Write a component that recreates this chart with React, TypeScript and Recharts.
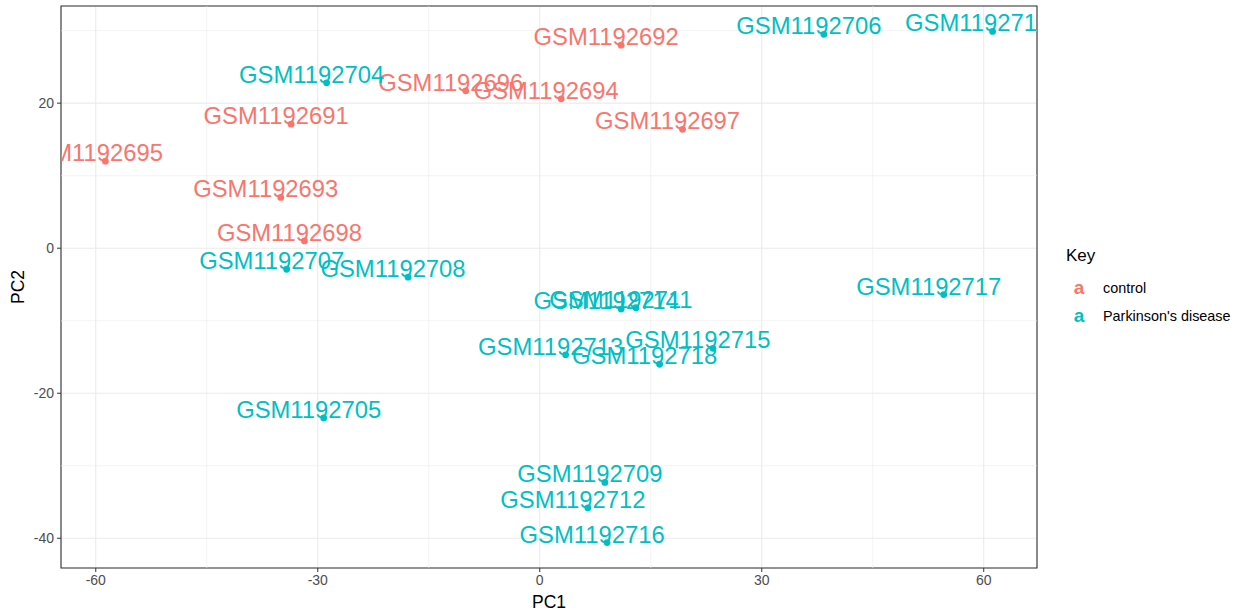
import {
  CartesianGrid,
  Legend,
  ReferenceArea,
  ReferenceLine,
  Scatter,
  ScatterChart,
  XAxis,
  YAxis,
} from "recharts";

const FONT = '"Liberation Sans", Arial, sans-serif';
const CONTROL_COLOR = "#F8766D";
const PD_COLOR = "#00BFC4";

// control samples
const controlNames = [
  "GSM1192691", "GSM1192692", "GSM1192693", "GSM1192694",
  "GSM1192695", "GSM1192696", "GSM1192697", "GSM1192698",
];
const controlPC1 = [-33.6, 11.0, -35.0, 2.9, -58.7, -10.0, 19.3, -31.8];
const controlPC2 = [17.1, 28.0, 7.0, 20.6, 12.0, 21.7, 16.4, 1.0];

// Parkinson's disease samples
const pdNames = [
  "GSM1192704", "GSM1192705", "GSM1192706", "GSM1192707", "GSM1192708",
  "GSM1192709", "GSM1192710", "GSM1192711", "GSM1192712", "GSM1192713",
  "GSM1192714", "GSM1192715", "GSM1192716", "GSM1192717", "GSM1192718",
];
const pdPC1 = [-28.8, -29.2, 38.4, -34.2, -17.8, 8.8, 61.2, 13.0, 6.5, 3.5, 11.0, 23.4, 9.1, 54.6, 16.2];
const pdPC2 = [22.8, -23.4, 29.5, -2.9, -4.0, -32.3, 29.9, -8.2, -35.8, -14.7, -8.4, -13.8, -40.6, -6.4, -16.0];

const xTicks = [-60, -30, 0, 30, 60];
const yTicks = [-40, -20, 0, 20];
const xMinor = [-45, -15, 15, 45];
const yMinor = [-30, -10, 10, 30];
const xDomain: [number, number] = [-64.7, 67.2];
const yDomain: [number, number] = [-44.1, 33.4];

const controlData = controlNames.map((name, i) => ({ name, pc1: controlPC1[i], pc2: controlPC2[i] }));
const pdData = pdNames.map((name, i) => ({ name, pc1: pdPC1[i], pc2: pdPC2[i] }));

// dot plus sample label, label sits just above and a bit left of the point
function labelledPoint(color: string) {
  return (props: any) => {
    const { cx, cy, payload } = props;
    if (cx == null || cy == null) return <g />;
    return (
      <g>
        <text
          x={cx - 15}
          y={cy}
          textAnchor="middle"
          fill={color}
          fontSize={23.8}
          fontFamily={FONT}
        >
          {payload.name}
        </text>
        <circle cx={cx} cy={cy} r={3.4} fill={color} />
      </g>
    );
  };
}

function KeyLegend() {
  const items = [
    { label: "control", color: CONTROL_COLOR },
    { label: "Parkinson's disease", color: PD_COLOR },
  ];
  return (
    <svg width={185} height={100} style={{ display: "block" }}>
      <text x={11} y={21} fontSize={17} fontFamily={FONT} fill="#000">Key</text>
      {items.map((it, i) => (
        <g key={it.label}>
          <text x={24} y={54 + i * 28} textAnchor="middle" fontSize={19} fontWeight="bold" fontFamily={FONT} fill={it.color}>a</text>
          <text x={48} y={53 + i * 28} fontSize={14.4} fontFamily={FONT} fill="#000">{it.label}</text>
        </g>
      ))}
    </svg>
  );
}

const tickStyle = { fill: "#4D4D4D", fontSize: 14, fontFamily: FONT };

export default function App() {
  return (
    <div style={{ position: "absolute", left: 0, top: 0, width: 1242, height: 615, background: "#fff" }}>
      <ScatterChart width={1242} height={615} margin={{ top: 6, right: 205, bottom: 0, left: 0 }}>
        <CartesianGrid stroke="#EBEBEB" strokeWidth={1.1} />
        {xMinor.map((v) => (
          <ReferenceLine key={`xm${v}`} x={v} stroke="#EBEBEB" strokeWidth={0.6} />
        ))}
        {yMinor.map((v) => (
          <ReferenceLine key={`ym${v}`} y={v} stroke="#EBEBEB" strokeWidth={0.6} />
        ))}
        <XAxis
          type="number"
          dataKey="pc1"
          domain={xDomain}
          ticks={xTicks}
          allowDataOverflow
          height={47}
          axisLine={false}
          tickLine={{ stroke: "#333333" }}
          tickSize={4}
          tickMargin={3}
          tick={tickStyle}
          label={{
            content: ({ viewBox }: any) => (
              <text x={viewBox.x + viewBox.width / 2} y={608} textAnchor="middle" fontSize={17.5} fontFamily={FONT} fill="#000">
                PC1
              </text>
            ),
          }}
        />
        <YAxis
          type="number"
          dataKey="pc2"
          domain={yDomain}
          ticks={yTicks}
          allowDataOverflow
          width={61}
          axisLine={false}
          tickLine={{ stroke: "#333333" }}
          tickSize={4}
          tickMargin={3}
          tick={tickStyle}
          label={{
            content: ({ viewBox }: any) => {
              const cy = viewBox.y + viewBox.height / 2;
              return (
                <text x={24} y={cy} transform={`rotate(-90 24 ${cy})`} textAnchor="middle" fontSize={17.5} fontFamily={FONT} fill="#000">
                  PC2
                </text>
              );
            },
          }}
        />
        <Scatter name="control" data={controlData} fill={CONTROL_COLOR} shape={labelledPoint(CONTROL_COLOR)} isAnimationActive={false} />
        <Scatter name="Parkinson's disease" data={pdData} fill={PD_COLOR} shape={labelledPoint(PD_COLOR)} isAnimationActive={false} />
        <ReferenceArea
          x1={xDomain[0]}
          x2={xDomain[1]}
          y1={yDomain[0]}
          y2={yDomain[1]}
          fill="none"
          stroke="#333333"
          strokeWidth={1.1}
          ifOverflow="visible"
        />
        <Legend
          layout="horizontal"
          verticalAlign="middle"
          align="center"
          wrapperStyle={{ position: "absolute", left: 1055, top: 240, width: 185, height: 100 }}
          content={() => <KeyLegend />}
        />
      </ScatterChart>
    </div>
  );
}
